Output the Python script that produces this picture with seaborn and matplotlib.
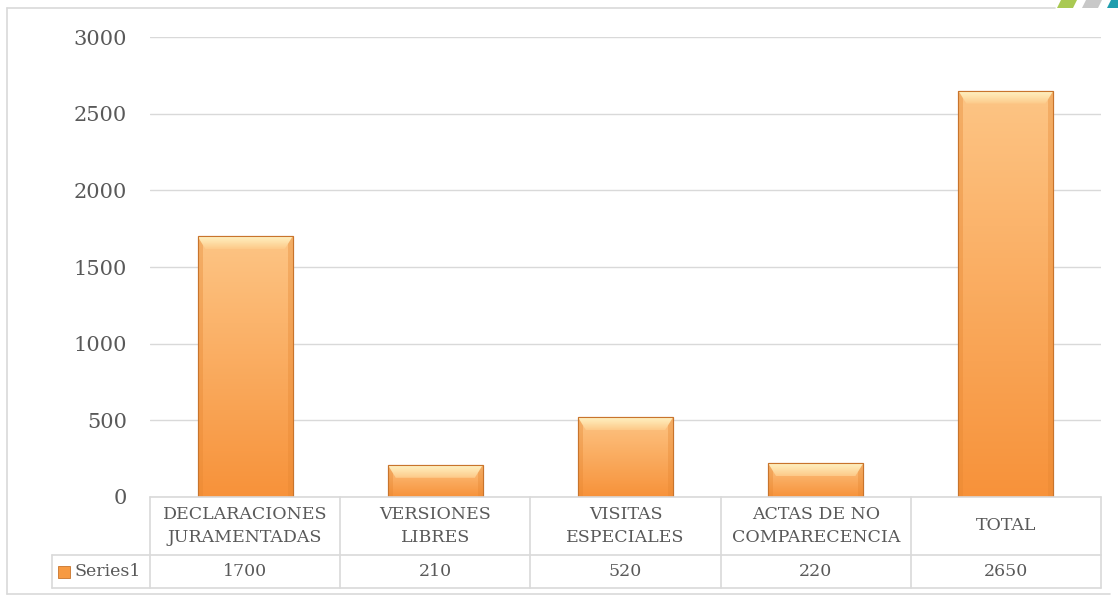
import numpy as np
import pandas as pd
import matplotlib
matplotlib.use("Agg")
import matplotlib.pyplot as plt
from matplotlib.patches import Rectangle, Polygon
import seaborn as sns

# datos del grafico
categorias = ["DECLARACIONES\nJURAMENTADAS", "VERSIONES\nLIBRES", "VISITAS\nESPECIALES",
              "ACTAS DE NO\nCOMPARECENCIA", "TOTAL"]
valores = [1700, 210, 520, 220, 2650]
serie = "Series1"
yticks = [0, 500, 1000, 1500, 2000, 2500, 3000]

W, H = 1118, 596
sns.set_theme(style="white")
plt.rcParams['font.family'] = ['DejaVu Serif']
GRIS_TXT = "#595959"
GRIS_LIN = "#d9d9d9"

fig = plt.figure(figsize=(W / 100, H / 100), dpi=100)

def px(x0, y0, x1, y1):
    return [x0 / W, 1 - y1 / H, (x1 - x0) / W, (y1 - y0) / H]

ax = fig.add_axes(px(150, 37, 1101, 497))
df = pd.DataFrame({"cat": categorias, "val": valores})
sns.barplot(data=df, x="cat", y="val", ax=ax, width=0.5, color="#f79a42",
            edgecolor="#c8742c", linewidth=0.8, zorder=3)

# degradado en cada barra
grad = np.linspace(0, 1, 256).reshape(-1, 1)
cmap = matplotlib.colors.LinearSegmentedColormap.from_list("nar", ["#f7923a", "#fdc585"])
cmap_b = matplotlib.colors.LinearSegmentedColormap.from_list("bis", ["#fdc988", "#fff3c4"])
ux = 1 / 190            # un pixel en x
uy = 3000 / 460         # un pixel en y
for p in ax.patches:
    x, y = p.get_x(), p.get_y()
    w, h = p.get_width(), p.get_height()
    im = ax.imshow(grad, cmap=cmap, aspect="auto", origin="lower",
                   extent=[x, x + w, y, y + h], zorder=4)
    im.set_clip_path(p)
    # bordes laterales mas oscuros
    for xe in (x, x + w - 5 * ux):
        ax.add_patch(Rectangle((xe, y), 5 * ux, h, facecolor="#e48530", alpha=0.35,
                               edgecolor="none", zorder=5))
    # bisel superior
    b = 13 * uy
    bx = 8 * ux
    bis = Polygon([[x, y + h], [x + w, y + h], [x + w - bx, y + h - b], [x + bx, y + h - b]],
                  closed=True, facecolor="none", edgecolor="none", zorder=6)
    ax.add_patch(bis)
    imb = ax.imshow(grad, cmap=cmap_b, aspect="auto", origin="lower",
                    extent=[x, x + w, y + h - b, y + h], zorder=6)
    imb.set_clip_path(bis)
    ax.add_patch(Rectangle((x, y), w, h, facecolor="none", edgecolor="#c8742c",
                           linewidth=0.8, zorder=7))

ax.set_xlim(-0.5, len(categorias) - 0.5)
ax.set_ylim(0, 3000)
ax.set_yticks(yticks)
ax.set_yticklabels([str(t) for t in yticks], fontsize=15, color=GRIS_TXT)
ax.tick_params(axis="y", length=0, pad=16.5)
ax.set_xticks([])
ax.set_xlabel("")
ax.set_ylabel("")
ax.yaxis.grid(True, color=GRIS_LIN, linewidth=1)
ax.set_axisbelow(True)
for s in ax.spines.values():
    s.set_visible(False)
ax.set_xlim(-0.5, len(categorias) - 0.5)

# tabla de datos
n = len(categorias)
izq = -0.5 - 98 / 190
tab = fig.add_axes(px(52, 497, 1101, 588))
tab.set_xlim(izq, n - 0.5)
tab.set_ylim(0, 91)
tab.axis("off")
lc = dict(color=GRIS_LIN, linewidth=1.2, clip_on=False)
tab.plot([-0.5, n - 0.5], [91, 91], **lc)
tab.plot([izq, n - 0.5], [33, 33], **lc)
tab.plot([izq, n - 0.5], [0, 0], **lc)
tab.plot([izq, izq], [0, 33], **lc)
for i in range(n + 1):
    tab.plot([i - 0.5, i - 0.5], [0, 91], **lc)
for i, (c, v) in enumerate(zip(categorias, valores)):
    tab.text(i, 62, c, ha="center", va="center", fontsize=12.5, color=GRIS_TXT, linespacing=1.45)
    tab.text(i, 16.5, str(v), ha="center", va="center", fontsize=12.5, color=GRIS_TXT)
kx = izq + 6 / 190
tab.add_patch(Rectangle((kx, 10), 12 / 190, 12, facecolor="#f79a42", edgecolor="#c8742c",
                        linewidth=0.6, clip_on=False))
tab.text(kx + 16 / 190, 16.5, serie, ha="left", va="center", fontsize=12.5, color=GRIS_TXT)

# marco exterior y detalle de esquina
marco = fig.add_axes([0, 0, 1, 1])
marco.set_xlim(0, W)
marco.set_ylim(H, 0)
marco.axis("off")
marco.plot([7, 1055], [8, 8], color=GRIS_LIN, linewidth=1.2)
marco.plot([7, 7], [8, 594], color=GRIS_LIN, linewidth=1.2)
marco.plot([7, 1110], [594, 594], color=GRIS_LIN, linewidth=1.2)
for x0, col in [(1057, "#a9c952"), (1082, "#c8c8c8"), (1107, "#1f9eae")]:
    marco.add_patch(Polygon([[x0, 8], [x0 + 4, 0], [x0 + 20, 0], [x0 + 16, 8]],
                            closed=True, facecolor=col, edgecolor="none"))

fig.savefig("out.png", dpi=100)
